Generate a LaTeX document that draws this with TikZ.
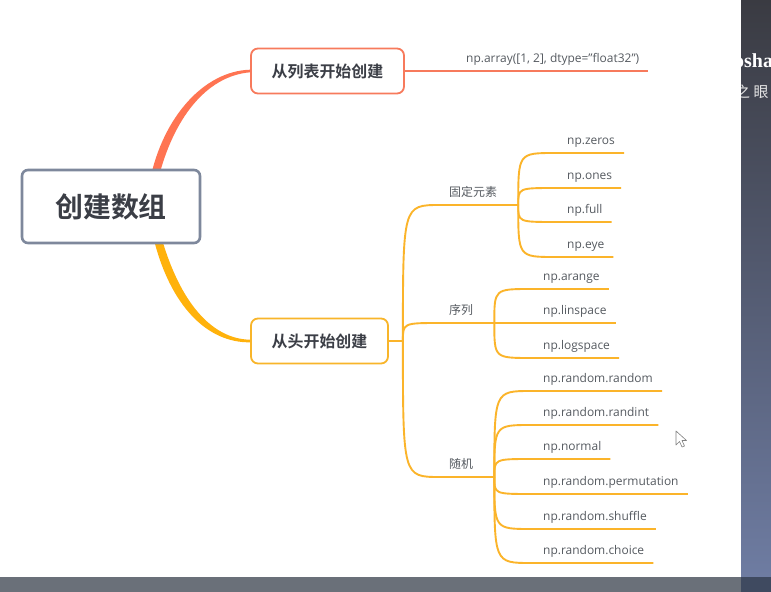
\documentclass[tikz,border=0pt]{standalone}
\usepackage{fontspec}
\setmainfont{Open Sans}
\newfontfamily\cjk{Noto Sans CJK SC}[BoldFont={Noto Sans CJK SC Bold}]
\newfontfamily\markserif{Liberation Serif}
\usetikzlibrary{calc,backgrounds}

\definecolor{rootgray}{HTML}{7E889C}
\definecolor{darktext}{HTML}{3B3E46}
\definecolor{leafgray}{HTML}{555A60}
\definecolor{listred}{HTML}{F77A5C}
\definecolor{stemred}{HTML}{FF7452}
\definecolor{scratchyel}{HTML}{F8B52A}
\definecolor{stemyel}{HTML}{FFB20C}
\definecolor{twigyel}{HTML}{FBB42A}
\definecolor{barbottom}{HTML}{6A7079}
\definecolor{edgetop}{HTML}{3A3B42}
\definecolor{edgebottom}{HTML}{6E7CA2}
\definecolor{edgecorner}{HTML}{3F4A60}

\tikzset{
  root/.style={draw=rootgray, line width=2.6bp, rounded corners=6bp, fill=white,
    font=\cjk\bfseries\fontsize{28}{30}\selectfont, text=darktext,
    minimum width=178bp, minimum height=73bp},
  topic/.style={line width=1.8bp, rounded corners=7bp, fill=white,
    font=\cjk\bfseries\fontsize{16}{18}\selectfont, text=darktext,
    minimum height=45bp},
  leaf/.style={anchor=south west, inner xsep=0, inner ysep=5bp, text depth=3bp,
    font=\fontsize{12}{14}\selectfont, text=leafgray},
  sublabel/.style={leaf, font=\cjk\fontsize{12}{14}\selectfont},
  twig/.style={draw=twigyel, line width=1.9bp},
}

\begin{document}
\begin{tikzpicture}[x=1bp, y=-1bp]
  \useasboundingbox (0,0) rectangle (771,592);

  % boxes
  \node[root] (root) at (111,206.5) {创建数组};
  \node[topic, draw=listred, minimum width=153bp] (fromlist) at (327.5,71) {从列表开始创建};
  \node[topic, draw=scratchyel, minimum width=137bp] (scratch) at (319.5,341) {从头开始创建};

  \coordinate (rtop) at (154,180);
  \coordinate (rbot) at (157,236);

  \begin{scope}[on background layer]
    \fill[white] (0,0) rectangle (771,592);
    \fill[stemred] ($(rtop)+(-4,0)$) .. controls (163,117) and (204,71) .. ($(fromlist.west)+(0,-1.3)$)
      -- ($(fromlist.west)+(0,1.3)$) .. controls (206,76) and (173,119) .. ($(rtop)+(4,0)$) -- cycle;
    \fill[stemyel] ($(rbot)+(-4,0)$) .. controls (170,307) and (208,343) .. ($(scratch.west)+(0,1.3)$)
      -- ($(scratch.west)+(0,-1.3)$) .. controls (212,339) and (180,303) .. ($(rbot)+(4,0)$) -- cycle;
  \end{scope}

  % from a list
  \node[leaf] (arr) at (466,71) {np.array([1, 2], dtype="float32")};
  \draw[listred, line width=1.9bp] (fromlist.east) -- ([xshift=9bp]arr.south east);

  % from scratch
  \coordinate (F0) at ([xshift=14bp]scratch.east);
  \node[sublabel] (fixed) at (449,205) {固定元素};
  \node[sublabel] (seq) at (449,323) {序列};
  \node[sublabel] (rand) at (449,477) {随机};
  \coordinate (F1) at ([xshift=21bp]fixed.south east);
  \coordinate (F2) at ([xshift=21bp]seq.south east);
  \coordinate (F3) at ([xshift=21bp]rand.south east);

  \draw[twig] (scratch.east) -- (F0);
  \draw[twig] (F0) .. controls (F0 |- fixed.south west) .. ([xshift=-9bp]fixed.south west) -- (F1);
  \draw[twig] (F0) .. controls (F0 |- seq.south west) .. ([xshift=-9bp]seq.south west) -- (F2);
  \draw[twig] (F0) .. controls (F0 |- rand.south west) .. ([xshift=-9bp]rand.south west) -- (F3);

  \node[leaf] (zeros) at (567,153) {np.zeros};
  \node[leaf] (ones) at (567,188) {np.ones};
  \node[leaf] (full) at (567,222) {np.full};
  \node[leaf] (eye) at (567,257) {np.eye};
  \draw[twig] (F1) .. controls (F1 |- zeros.south west) .. ([xshift=-12bp]zeros.south west) -- ([xshift=9bp]zeros.south east);
  \draw[twig] (F1) .. controls (F1 |- ones.south west) .. ([xshift=-12bp]ones.south west) -- ([xshift=9bp]ones.south east);
  \draw[twig] (F1) .. controls (F1 |- full.south west) .. ([xshift=-12bp]full.south west) -- ([xshift=9bp]full.south east);
  \draw[twig] (F1) .. controls (F1 |- eye.south west) .. ([xshift=-12bp]eye.south west) -- ([xshift=9bp]eye.south east);

  \node[leaf] (arange) at (543,289) {np.arange};
  \node[leaf] (linspace) at (543,323) {np.linspace};
  \node[leaf] (logspace) at (543,358) {np.logspace};
  \draw[twig] (F2) .. controls (F2 |- arange.south west) .. ([xshift=-12bp]arange.south west) -- ([xshift=9bp]arange.south east);
  \draw[twig] (F2) -- ([xshift=9bp]linspace.south east);
  \draw[twig] (F2) .. controls (F2 |- logspace.south west) .. ([xshift=-12bp]logspace.south west) -- ([xshift=9bp]logspace.south east);

  \node[leaf] (rrandom) at (543,391) {np.random.random};
  \node[leaf] (randint) at (543,425) {np.random.randint};
  \node[leaf] (normal) at (543,459) {np.normal};
  \node[leaf] (perm) at (543,494) {np.random.permutation};
  \node[leaf] (shuffle) at (543,529) {np.random.shuffle};
  \node[leaf] (choice) at (543,563) {np.random.choice};
  \draw[twig] (F3) .. controls (F3 |- rrandom.south west) .. ([xshift=-12bp]rrandom.south west) -- ([xshift=9bp]rrandom.south east);
  \draw[twig] (F3) .. controls (F3 |- randint.south west) .. ([xshift=-12bp]randint.south west) -- ([xshift=9bp]randint.south east);
  \draw[twig] (F3) .. controls (F3 |- normal.south west) .. ([xshift=-12bp]normal.south west) -- ([xshift=9bp]normal.south east);
  \draw[twig] (F3) .. controls (F3 |- perm.south west) .. ([xshift=-12bp]perm.south west) -- ([xshift=9bp]perm.south east);
  \draw[twig] (F3) .. controls (F3 |- shuffle.south west) .. ([xshift=-12bp]shuffle.south west) -- ([xshift=9bp]shuffle.south east);
  \draw[twig] (F3) .. controls (F3 |- choice.south west) .. ([xshift=-12bp]choice.south west) -- ([xshift=9bp]choice.south east);

  % pointer
  \filldraw[fill=white, draw=gray, line width=0.6bp, line join=round]
    (676,431) -- (676,445) -- (679.5,441.5) -- (682,447) -- (684.5,446) -- (682,440.5) -- (686.5,440.5) -- cycle;

  % screen edges
  \fill[barbottom] (0,577) rectangle (741,592);
  \shade[top color=edgetop, bottom color=edgebottom] (741,0) rectangle (771,577);
  \fill[edgecorner] (741,577) rectangle (771,592);
  \begin{scope}
    \clip (741,0) rectangle (771,577);
    \node[anchor=west, inner sep=0, text=white, font=\markserif\bfseries\fontsize{20}{22}\selectfont] (mark) at (734,61) {osha};
    \node[anchor=west, inner sep=0, text=white!80!gray, font=\cjk\fontsize{15}{17}\selectfont] (markcn) at (735,92) {之 眼};
  \end{scope}
\end{tikzpicture}
\end{document}
